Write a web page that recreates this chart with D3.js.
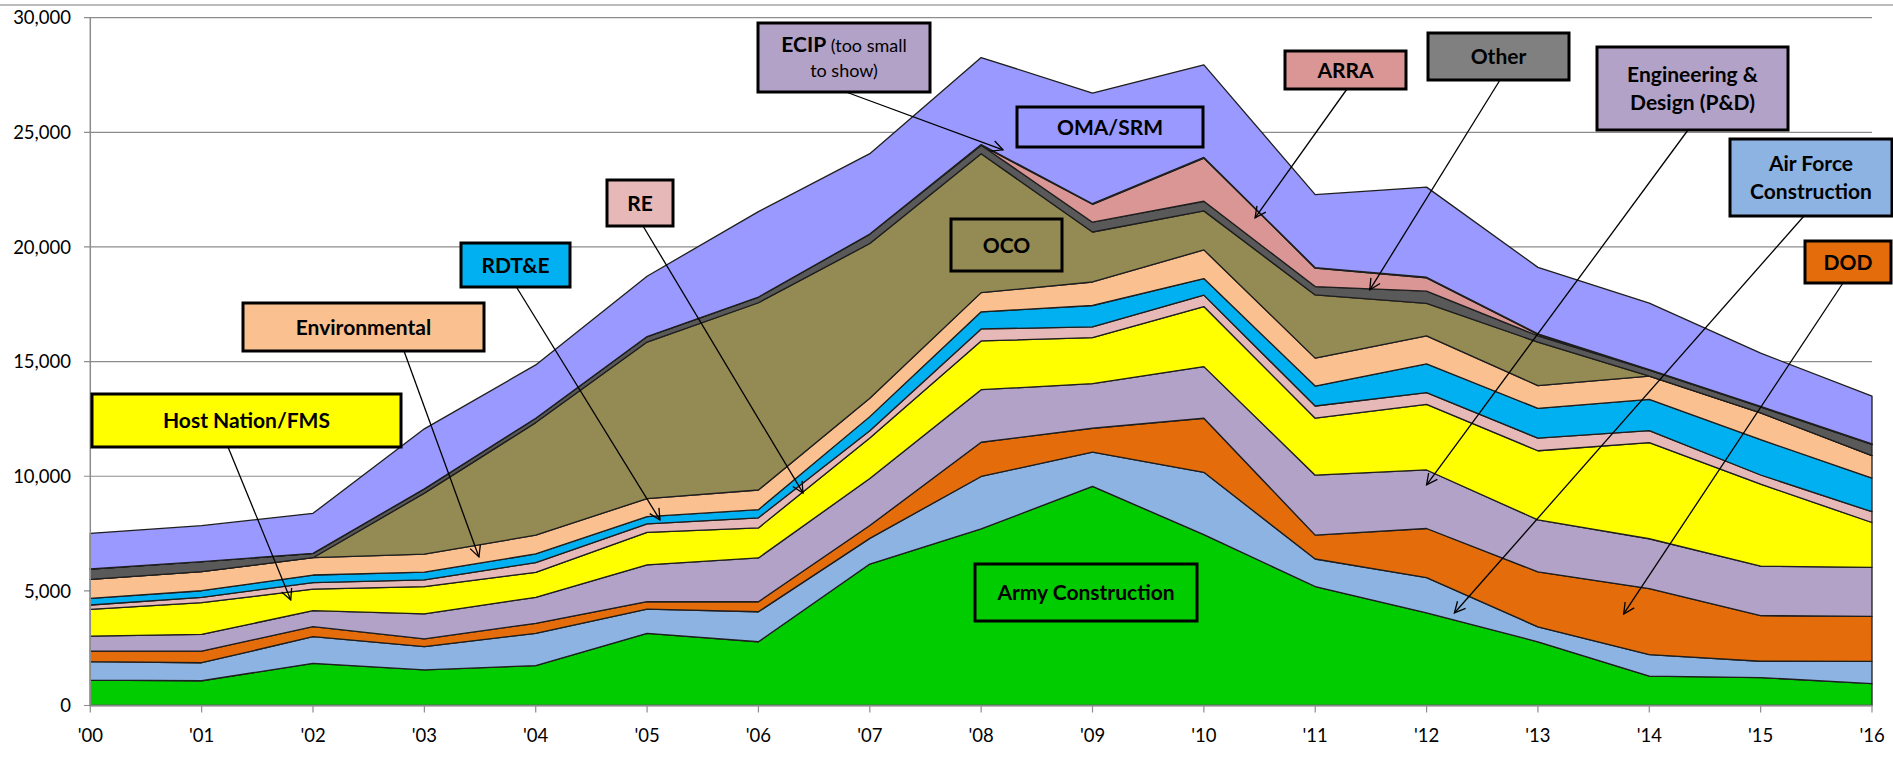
<!DOCTYPE html>
<html>
<head>
<meta charset="utf-8">
<script src="https://cdn.jsdelivr.net/npm/d3@7"></script>
<style>
  body { margin: 0; background: #fff; }
  text { font-family: Lato, "Open Sans", sans-serif; }
</style>
</head>
<body>
<svg id="chart" width="1893" height="758"></svg>
<script>
// fiscal years on the x axis
const years = ["'00","'01","'02","'03","'04","'05","'06","'07","'08","'09","'10","'11","'12","'13","'14","'15","'16"];

// series values, bottom of the stack first
const armyConstruction = [1110, 1080, 1840, 1550, 1740, 3150, 2780, 6170, 7700, 9560, 7450, 5190, 4040, 2780, 1285, 1220, 950];
const airForceConstruction = [800, 785, 1160, 1020, 1410, 1050, 1310, 1120, 2290, 1490, 2720, 1200, 1540, 650, 935, 710, 975];
const dod = [466, 510, 437, 335, 436, 333, 436, 559, 1492, 1043, 2360, 1040, 2140, 2400, 2880, 1990, 1960];
const engineeringDesign = [654, 728, 698, 1091, 1134, 1601, 1911, 2050, 2295, 1942, 2252, 2615, 2553, 2265, 2173, 2154, 2142];
const hostNationFms = [1164, 1380, 945, 1192, 1091, 1420, 1310, 1772, 2125, 2011, 2618, 2487, 2859, 3016, 4197, 3580, 1955];
const re = [189, 234, 276, 292, 420, 370, 440, 314, 523, 467, 501, 531, 513, 548, 522, 400, 470];
const rdte = [291, 289, 335, 335, 379, 310, 355, 615, 746, 934, 720, 869, 1252, 1302, 1358, 1540, 1468];
const environmental = [829, 830, 756, 786, 820, 790, 857, 803, 838, 1025, 1252, 1221, 1222, 993, 1017, 1165, 982];
const oco = [0, 0, 0, 2661, 4910, 6830, 8168, 6749, 6060, 2181, 1702, 2753, 1418, 1898, 0, 0, 0];
const other = [450, 436, 190, 188, 190, 240, 250, 410, 371, 428, 419, 367, 533, 275, 258, 264, 483];
const arra = [0, 0, 0, 0, 0, 0, 0, 0, 0, 781, 1885, 802, 584, 60, 0, 0, 0];
const ecip = [0, 0, 0, 0, 0, 0, 0, 0, 25, 25, 25, 25, 25, 25, 25, 25, 25];
const omaSrm = [1557, 1571, 1745, 2618, 2326, 2630, 3725, 3508, 3797, 4827, 4041, 3182, 3932, 2899, 2898, 2318, 2087];

const yTicks = [0, 5000, 10000, 15000, 20000, 25000, 30000];

const series = [
  {key: "Army Construction", values: armyConstruction, color: "#00CC00"},
  {key: "Air Force Construction", values: airForceConstruction, color: "#8DB3E2"},
  {key: "DOD", values: dod, color: "#E46C0A"},
  {key: "Engineering & Design (P&D)", values: engineeringDesign, color: "#B3A2C7"},
  {key: "Host Nation/FMS", values: hostNationFms, color: "#FFFF00"},
  {key: "RE", values: re, color: "#E6B9B8"},
  {key: "RDT&E", values: rdte, color: "#00B0F0"},
  {key: "Environmental", values: environmental, color: "#FAC090"},
  {key: "OCO", values: oco, color: "#948A54"},
  {key: "Other", values: other, color: "#595959"},
  {key: "ARRA", values: arra, color: "#D99694"},
  {key: "ECIP", values: ecip, color: "#B3A2C7"},
  {key: "OMA/SRM", values: omaSrm, color: "#9999FF"}
];

// table for d3.stack
const table = years.map((yr, i) => {
  const row = {year: yr};
  series.forEach(s => row[s.key] = s.values[i]);
  return row;
});

const svg = d3.select("#chart");

const x = d3.scalePoint().domain(years).range([90.3, 1872]);
const xi = d3.scaleLinear().domain([0, years.length - 1]).range([90.3, 1872]); // fractional year positions for arrows
const y = d3.scaleLinear().domain([0, 30000]).range([705.5, 17.7]);

// frame line at very top
svg.append("line")
  .attr("x1", 0).attr("x2", 1893).attr("y1", 5).attr("y2", 5)
  .attr("stroke", "#a6a6a6").attr("stroke-width", 1.5);

// gridlines
svg.append("g").selectAll("line")
  .data(yTicks)
  .enter().append("line")
    .attr("x1", 84).attr("x2", 1872)
    .attr("y1", d => y(d)).attr("y2", d => y(d))
    .attr("stroke", "#8c8c8c").attr("stroke-width", 1.2);

// stacked areas
const stack = d3.stack().keys(series.map(s => s.key));
const layers = stack(table);

const area = d3.area()
  .x(d => x(d.data.year))
  .y0(d => y(d[0]))
  .y1(d => y(d[1]));

svg.append("g").selectAll("path")
  .data(layers)
  .enter().append("path")
    .attr("d", area)
    .attr("fill", (d, i) => series[i].color)
    .attr("stroke", "#1e1e1e")
    .attr("stroke-width", 1.3)
    .attr("stroke-linejoin", "round");

// axes
svg.append("line")
  .attr("x1", 90.3).attr("x2", 90.3).attr("y1", y(30000)).attr("y2", y(0))
  .attr("stroke", "#8c8c8c").attr("stroke-width", 1.5);
svg.append("line")
  .attr("x1", 90.3).attr("x2", 1872).attr("y1", y(0)).attr("y2", y(0))
  .attr("stroke", "#8c8c8c").attr("stroke-width", 1.5);

svg.append("g").selectAll("line")
  .data(years)
  .enter().append("line")
    .attr("x1", d => x(d)).attr("x2", d => x(d))
    .attr("y1", y(0)).attr("y2", y(0) + 7)
    .attr("stroke", "#8c8c8c").attr("stroke-width", 1.2);

svg.append("g").selectAll("text")
  .data(yTicks)
  .enter().append("text")
    .attr("x", 71).attr("y", d => y(d))
    .attr("dy", "0.36em")
    .attr("text-anchor", "end")
    .attr("font-size", 18.5)
    .attr("fill", "#000")
    .text(d => d3.format(",")(d));

svg.append("g").selectAll("text")
  .data(years)
  .enter().append("text")
    .attr("x", d => x(d)).attr("y", 735)
    .attr("dy", "0.36em")
    .attr("text-anchor", "middle")
    .attr("font-size", 18.5)
    .attr("fill", "#000")
    .text(d => d);

// arrowhead
svg.append("defs").append("marker")
  .attr("id", "arrow")
  .attr("viewBox", "0 0 12 12")
  .attr("refX", 11).attr("refY", 6)
  .attr("markerWidth", 13).attr("markerHeight", 13)
  .attr("markerUnits", "userSpaceOnUse")
  .attr("orient", "auto")
  .append("path")
    .attr("d", "M1,1 L11,6 L1,11")
    .attr("fill", "none")
    .attr("stroke", "#000")
    .attr("stroke-width", 1.2);

// callout boxes: [x, y, w, h], lines, arrow start, arrow target (year index, value)
const callouts = [
  {box: [92, 394, 309, 53], fill: "#FFFF00", lines: ["Host Nation/FMS"], from: [228, 447], to: [1.80, 4603]},
  {box: [243, 303, 241, 48], fill: "#FAC090", lines: ["Environmental"], from: [404, 351], to: [3.49, 6479]},
  {box: [461, 243, 109, 44], fill: "#00B0F0", lines: ["RDT&E"], from: [517, 288], to: [5.116, 8093]},
  {box: [607, 180, 66, 46], fill: "#E6B9B8", lines: ["RE"], from: [643, 226], to: [6.40, 9271]},
  {box: [758, 23, 172, 69], fill: "#B3A2C7", lines: ["ECIP"], ecip: true, from: [846, 92], to: [8.196, 24236]},
  {box: [1017, 107, 186, 40], fill: "#9999FF", lines: ["OMA/SRM"]},
  {box: [951, 219, 111, 52], fill: "#948A54", lines: ["OCO"]},
  {box: [1285, 51, 121, 38], fill: "#D99694", lines: ["ARRA"], from: [1347, 89], to: [10.46, 21270]},
  {box: [1428, 33, 141, 47], fill: "#808080", lines: ["Other"], from: [1500, 80], to: [11.49, 18128]},
  {box: [1597, 47, 191, 83], fill: "#B3A2C7", lines: ["Engineering &", "Design (P&D)"], from: [1688, 130], to: [12.0, 9620]},
  {box: [1730, 139, 162, 77], fill: "#8DB3E2", lines: ["Air Force", "Construction"], from: [1804, 216], to: [12.25, 4036]},
  {box: [1805, 241, 86, 42], fill: "#E46C0A", lines: ["DOD"], from: [1843, 283], to: [13.77, 3992]},
  {box: [975, 564, 222, 57], fill: "#00CC00", lines: ["Army Construction"]}
];

const arrows = svg.append("g");
arrows.selectAll("line")
  .data(callouts.filter(c => c.from))
  .enter().append("line")
    .attr("x1", d => d.from[0]).attr("y1", d => d.from[1])
    .attr("x2", d => xi(d.to[0])).attr("y2", d => y(d.to[1]))
    .attr("stroke", "#000")
    .attr("stroke-width", 1.3)
    .attr("marker-end", "url(#arrow)");

const boxes = svg.append("g").selectAll("g")
  .data(callouts)
  .enter().append("g");

boxes.append("rect")
  .attr("x", d => d.box[0]).attr("y", d => d.box[1])
  .attr("width", d => d.box[2]).attr("height", d => d.box[3])
  .attr("fill", d => d.fill)
  .attr("stroke", "#000")
  .attr("stroke-width", 3);

boxes.each(function(d) {
  const g = d3.select(this);
  const cx = d.box[0] + d.box[2] / 2;
  const cy = d.box[1] + d.box[3] / 2;
  if (d.ecip) {
    const t = g.append("text")
      .attr("x", cx).attr("y", cy - 12)
      .attr("dy", "0.36em")
      .attr("text-anchor", "middle")
      .attr("font-size", 18);
    t.append("tspan").attr("font-weight", 700).attr("font-size", 21).text("ECIP");
    t.append("tspan").text(" (too small");
    g.append("text")
      .attr("x", cx).attr("y", cy + 13)
      .attr("dy", "0.36em")
      .attr("text-anchor", "middle")
      .attr("font-size", 18)
      .text("to show)");
    return;
  }
  const n = d.lines.length;
  d.lines.forEach((ln, k) => {
    g.append("text")
      .attr("x", cx)
      .attr("y", cy + (k - (n - 1) / 2) * 28)
      .attr("dy", "0.36em")
      .attr("text-anchor", "middle")
      .attr("font-size", 21)
      .attr("font-weight", 700)
      .attr("fill", "#000")
      .text(ln);
  });
});
</script>
</body>
</html>
